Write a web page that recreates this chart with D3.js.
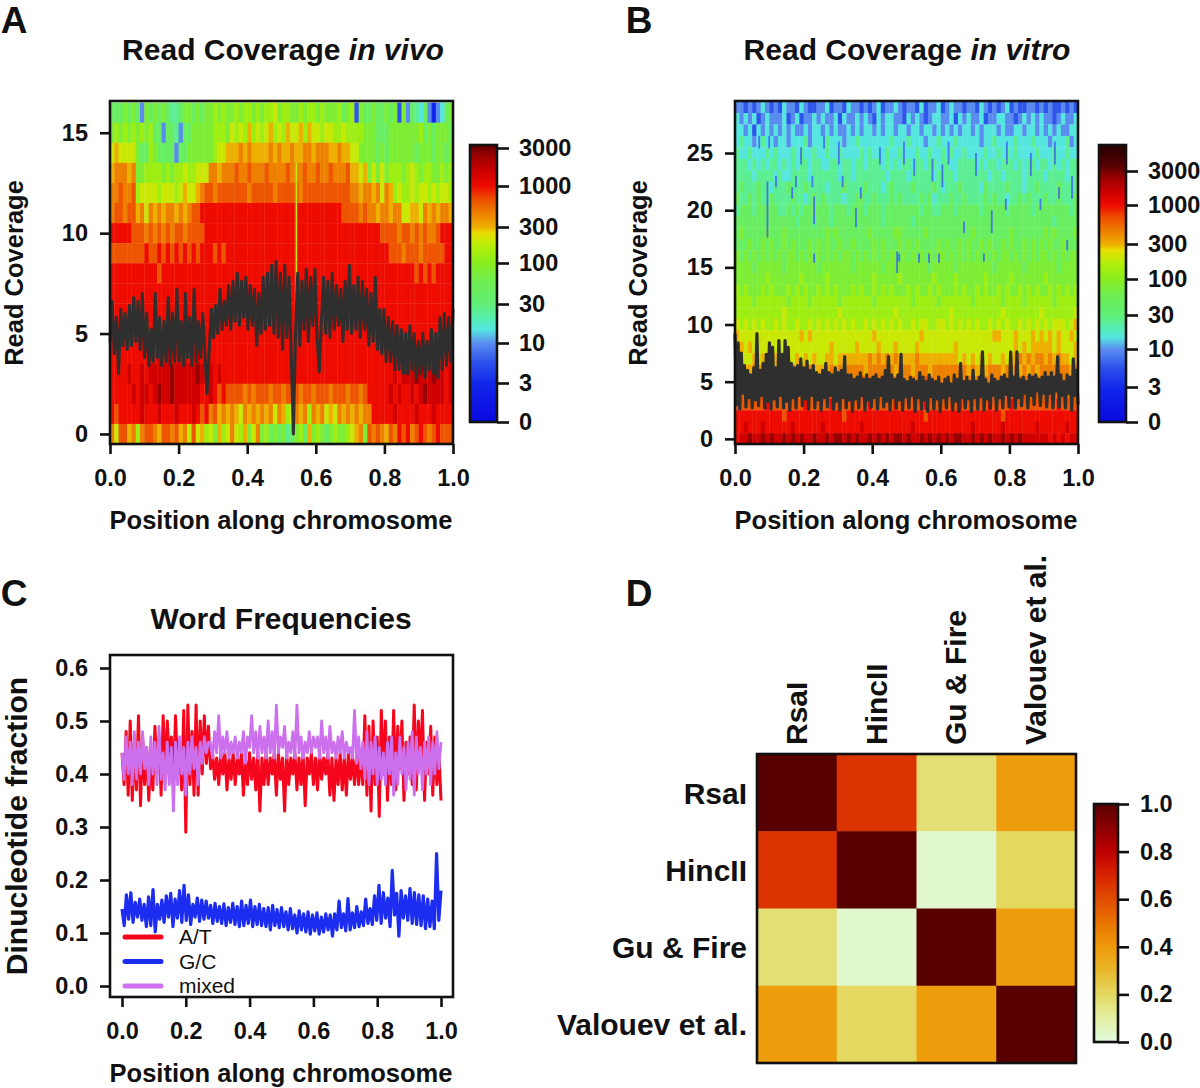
<!DOCTYPE html>
<html><head><meta charset="utf-8">
<script src="https://cdn.jsdelivr.net/npm/d3@7"></script>
<style>
html,body{margin:0;padding:0;background:#fff}
text{font-family:"Liberation Sans",Arial,sans-serif;font-weight:bold;fill:#111}
</style></head><body><div id="c"></div>
<script>
// ---- data ----
const positionTicks=[0,.2,.4,.6,.8,1];
const levelValues=[3,6,10,15,25,45,80,130,200,300,450,650,1000,1500,2500];
// each string: one row of the read-coverage map, top row first, one hex level per position bin
const heatA=[
"5556565265 6565445665 6566767667 6776767786 7766767767 6667567165 5655656162 5435202356",
"6767676767 5525542556 6666777687 8797878978 7988979887 8877877776 6655566666 6675656665",
"8988886557 6555525566 6666788999 a9a9999a9a 99a99aa9aa a99a998866 6656566666 6566656656",
"9aaa9a6677 7767677877 888aa9aaab aabaaabaaa abaaabaaba abaaab9989 6868677767 8767766767",
"aabaab7888 8788878988 9abbabbbbb bbabbbbbab bbbbabbbbb bbbbbbaa9a a9a8a97877 8788787887",
"abbabb9a8a 9a9aa9a9ab bccccccccc cccccccccc cccccccccc ccccbbbbab aa9aa9aa88 998a9a9aa9",
"cccccbbbab abababbabb bbcccccccc cccccccccc cccccccccc cccccccccc cccbbbbabb ababaabccc",
"bbbbbbbbcb bcbcbcbcbc bcccbcbccc cccccccccc cccccccccc cccccccccc cccccbbbab bbabbbbbcc",
"cccccccccc cbcccccccc cccccccccc cccccccccc cccccccccc cccccccccc cccccccccc cbcbcbcccc",
"cccccccccc cccccccccc cccccccccc cccccccccc cccccccccc cccccccccc cccccccccc cccccccccc",
"cccccccccc cccccccccc cccccccccc cccccccccc cccccccccc cccccccccc cccccccccc cccccccccc",
"cccccccccc cccccccccc cccccccccc cccccccccc cccccccccc cccccccccc cccccccccc cccccccccc",
"cccccccccc cdcdcccdcc dccccccccc cccccccccc cccccccccc cccccccccc cccccccdcc cdcdcdcccc",
"ccccdccdcd ddddeddddd edddcdcccc cccccccccc cccccccccc cccccccccc ccccccdcdd dedddeddcd",
"cccccdcddc deddeddddd dccdcbcbbb bababbbabb abbbabbabb babbbabbab cccccdcdcc dcdeddddcd",
"cbcccccdcc cdcccdcccd cbcab9a9a9 8a9a9a9a8a 978a9a7a9a 898a9a9a9a acccccdccc cdcccdcccc",
"a8bb9a7abb a9bbab9a8b 89786978a8 7968a67565 6456759676 56766789a6 baba9bacbc abcbabcbbb"
];
const heatB=[
"2212123212 1322132112 2312213221 2123122321 2213122312 3221221321 2123121122 1212112121",
"3232312322 2312312232 3223132232 3213233221 3232123322 3132322312 2332212323 2322123223",
"3323132323 2323223233 2323223232 3323233233 2332332323 2323323233 3232233233 2323232233",
"3433234332 3323334233 3433323343 3333334333 4333233433 3433333233 4333343334 3332333423",
"4334333434 3334343343 3433433334 3433343343 3343343343 4334333343 3434343333 4333433433",
"4443434344 3434344344 3344344344 3444343434 4344344344 3344443434 4344434344 3443434344",
"4444344443 4334444344 4444344344 4444434444 3444443444 4344444443 4434444344 4434444344",
"4544454434 4454445444 4344454444 5444345444 4544445434 4454444354 4445444344 5444454444",
"5445454454 4445443454 5444434455 4454445454 4445453444 5445444454 5443445454 4454454445",
"4555455555 4454545555 5545554555 4555455555 5554554455 5455555455 5554555554 5555555545",
"5555555555 5555455545 5545555555 5555455555 5455555555 5555555555 5555555555 5555455555",
"5655555655 5655555555 5656555555 5655555665 5555655555 5555565555 5555655555 5565655556",
"5556556565 5656555656 5655655655 5565655565 6565555656 5565655656 5565655656 5656556555",
"6565656565 6566565656 5656566565 6565656656 5656565665 6565656565 6566565656 5665656566",
"6666566666 6566666665 6666666566 6666566666 6666656666 6566666666 5666666566 6666656666",
"6666666766 6666676666 6766666666 6676666676 6666667666 6766666676 6666766666 6676666666",
"7676667676 6676767667 6767666767 6676767666 7676676766 6767667676 6767667676 7667676767",
"7777677777 7767777677 7777677777 7767777777 7677777677 7777767777 7767777677 7777677777",
"7777777777 7877777777 7777877777 7777777877 7777777777 8777777777 7787777777 7877777778",
"8787878778 7877877878 7878787877 8787878787 7878877887 8787878778 7878778787 8787888789",
"9888888888 8888898988 8888888888 8898888888 8889888888 8888888888 9988898889 8989898898",
"8989888888 8888888888 8898888898 8889888988 8898888888 8988888888 8888898989 9999898889",
"8888989999 9988989898 8998999999 9a9a9a9a99 99a9999999 9989898989 889899a9a9 aa9a9a9989",
"9999a9a999 999a9a9a99 99a9a9aaaa 9aaaaaa9aa a9aaa9aaaa aaaa9a9a9a aa9a9a9a9a 9aaaaaaa9a",
"aaaaaaaaaa aaabaaaaaa aaaaaaaaab aaaaaaaaaa aaaabaaaaa aaaaaaaaaa aaaaaaabaa aaaaaaaaaa",
"bbabbabbba bbabbabbab babbabbabb bbabbbabbb bbabbabbab babbbabbab bbabbabbab bbabbababb",
"bbbbbbbcbb bbbbbbcbbb bbcbbbbbbb bcbbbbbcbb bbbbcbbbbb bbcbbbbbbc bbbbcbbbbb bbbbbcbbbb",
"cccccccccc cbcccccccc cccccbcccc cccccccccc ccccbccccc cccccccccc ccbccccccc cccccccccc",
"ccdcccdccc cccdcccccc dccccccccd cccccccccc cdcccccccc cccccdcccc ccdccccccc dccccccdcc",
"cddeddeded dedededded dedeededed dedededeed eddededede deeddedede ddedededdd dddcdcdcdd"
];
const streakA=[13,12,11,10,9,8,7,6]; // rows of the thin pale streak near 0.54
// thin blue streaks in panel B: position, coverage low, coverage high
const streakBPos=[.092,.068,.228,.228,.257,.164,.097,.117,.175,.223,.311,.364,.35,.476,.573,.602,.665,.723,.746,.534,.563,.592,.47,.966,.888,.787,.98,.942,.19,.30,.42,.49,.52,.62,.70,.79,.86,.93];
const streakBLow=[17.6,25.4,18.8,15.4,25.4,21,25.4,22,22,22,22,21,18.5,15.5,22.5,22,18,15.5,18,15.4,15.4,15.4,14.5,16.5,20,20,21,21,24,24,24,24,23,24,23,24,23,24];
const streakBHigh=[22.5,26.5,21.2,16.2,26.5,22,26.5,23,23,23,23,22,20.2,16.2,24.5,24,19,16.2,20,16.2,16.2,16.2,16.4,17.4,21,21,23,22,25.5,26,25.5,26,24.5,26,25,26,25,26];
const lineA=[
46,66,40,58,30,62,44,60,42,64,44,68,46,66,42,70,
38,60,34,52,36,70,38,58,34,56,36,68,34,60,36,72,
36,56,34,70,38,58,34,72,36,56,38,60,40,20,42,62,
48,64,50,72,52,66,54,74,52,76,56,80,54,76,58,78,
52,74,54,72,44,70,50,78,52,80,54,84,50,86,48,80,
42,84,48,78,40,0,50,80,44,76,52,82,46,78,54,82,
48,31,56,78,50,76,48,80,52,74,54,72,46,76,52,84,
50,74,52,78,48,76,52,72,44,70,46,78,42,62,40,62,
36,58,36,56,32,54,32,52,30,50,30,54,32,50,28,46,
30,50,28,46,32,52,30,50,28,58,32,60,34,58,36,62
];
const lineB=[
92,30,84,26,75,40,64,28,60,36,56,27,62,34,92,29,60,38,66,27,74,33,
84,26,80,35,62,28,86,38,74,27,86,33,80,25,66,36,62,27,64,38,70,29,
62,35,68,26,60,38,64,27,58,34,56,25,60,36,66,28,58,38,56,26,62,33,
58,25,60,36,72,27,56,34,56,24,52,35,54,27,58,38,52,25,56,34,52,28,
54,36,56,26,52,38,54,28,60,33,72,25,56,36,52,27,56,34,74,25,52,37,
50,27,54,38,52,24,50,36,58,26,54,34,50,24,56,37,52,26,50,35,54,24,
48,36,52,27,54,38,48,25,56,33,52,24,66,36,50,27,54,35,50,24,60,36,
50,26,54,37,76,25,52,35,48,27,56,38,52,25,50,36,54,27,56,39,52,28,
76,38,54,27,76,36,52,29,54,40,50,27,56,38,54,30,56,42,52,29,54,40,
58,28,54,40,58,27,54,42,72,28,56,38,50,27,56,40,54,25,70,38,60,30
];
const seriesAT=[
44,38,48,36,50,35,46,37,51,34,47,38,45,35,43,37,49,40,47,36,51,39,50,42,47,38,51,41,44,37,52,29,53,38,48,36,53,36,50,40,51,42,49,
41,44,39,43,38,44,40,44,37,43,39,44,38,43,40,44,36,43,38,44,39,43,37,44,33,43,38,44,38,43,40,44,36,44,39,43,33,44,38,43,
40,44,37,43,38,44,34,43,40,44,38,43,37,44,39,43,40,44,36,43,35,43,38,44,37,43,36,44,39,43,38,44,38,
44,38,51,36,49,33,50,38,47,32,52,40,50,35,47,38,52,37,49,41,50,35,46,40,47,38,53,37,50,42,52,35,46,40,49,36,47,38,44,35
];
const seriesGC=[
145,114,172,126,176,120,158,130,164,124,154,112,168,114,182,102,154,126,162,120,170,130,175,112,164,128,180,120,190,124,172,116,154,130,166,122,162,126,160,128,
152,118,156,122,150,118,155,114,148,120,156,116,150,112,160,114,152,118,162,112,150,116,154,114,146,112,148,106,152,114,144,110,148,112,140,106,146,108,134,100,
142,106,136,102,140,98,134,104,138,98,130,102,136,106,134,94,136,106,160,110,136,104,165,106,138,110,150,112,140,114,164,118,146,116,170,124,190,118,
176,128,166,112,218,134,175,94,180,128,170,124,184,118,176,116,172,114,170,108,164,112,160,108,250,124,180
];
const seriesMix=[
44,39,47,40,46,38,48,39,46,40,48,41,45,38,47,40,46,38,49,39,44,37,46,38,45,33,46,38,47,40,45,36,46,40,47,41,45,38,46,42,47,44,46,
46,43,48,44,51,43,47,44,48,43,46,44,47,43,46,44,48,42,47,45,51,44,48,43,49,44,47,43,50,44,48,43,53,44,47,45,49,43,46,44,
48,43,53,44,47,43,46,44,48,44,47,45,47,43,50,44,47,43,49,44,46,43,47,44,48,43,46,44,45,43,52,42,47,
41,46,39,48,38,46,40,47,38,45,39,44,38,46,40,47,36,44,38,47,40,45,37,46,39,48,36,47,40,45,37,46,40,47,38,46,40,48,41,46
];
const legendLabels=["A/T","G/C","mixed"];
const matrixNames=["RsaI","HincII","Gu & Fire","Valouev et al."];
const matrixRow1=[1,.66,.17,.39];
const matrixRow2=[.66,1,.03,.2];
const matrixRow3=[.17,.03,1,.39];
const matrixRow4=[.39,.2,.39,1];
const barTicks=[0,3,10,30,100,300,1000,3000];
const corrTicks=[0,.2,.4,.6,.8,1];

// ---- scales ----
const W=1200,H=1088,ink="#111";
const svg=d3.select("#c").append("svg").attr("width",W).attr("height",H).style("display","block");
const ln=v=>Math.log10(1+v);
const stopV=[0,3,6,10,15,20,30,60,100,170,250,300,450,700,1000,1500,2500,3500,6000];
const stopC=["#0808e0","#1226ea","#2e55ec","#5a8cf0","#55e6e0","#55eeb4","#60ee78","#70ee50","#88ee20","#b4ee08","#e8e000","#eeb000","#ee8000","#ee4c00","#ee0c00","#d00000","#980000","#5a0000","#300000"];
const heatColor=d3.scaleLinear().domain(stopV.map(ln)).range(stopC).clamp(true);
const corrColor=d3.scaleLinear().domain([0,.1,.2,.3,.4,.5,.6,.7,.8,.9,1])
 .range(["#e0fbe0","#e4f0a4","#e4d860","#eab82c","#ee9a08","#e87400","#e04c00","#d82400","#bc0000","#8c0000","#580000"]);

function styleAxis(g,size){
  g.select(".domain").remove();
  g.selectAll(".tick line").attr("stroke",ink).attr("stroke-width",2.6);
  g.selectAll(".tick text").attr("font-size",size||23.5).style("font-family",'"Liberation Sans"').attr("font-weight","bold").attr("fill",ink);
}
function frame(x,y,w,h){svg.append("rect").attr("x",x).attr("y",y).attr("width",w).attr("height",h).attr("fill","none").attr("stroke",ink).attr("stroke-width",2.6);}
function label(t,x,y,size,opt={}){
  const e=svg.append("text").attr("x",x).attr("y",y).attr("font-size",size).attr("text-anchor",opt.anchor||"middle");
  if(opt.rot!=null)e.attr("transform",`rotate(${opt.rot} ${x} ${y})`);
  if(opt.weight)e.style("font-weight",opt.weight);
  e.text(t);return e;
}
function panelTitle(a,b,x,y){
  const t=svg.append("text").attr("x",x).attr("y",y).attr("font-size",30).attr("text-anchor","middle");
  t.append("tspan").text(a);
  if(b)t.append("tspan").style("font-style","italic").text(" "+b);
}
function heatPanel(rows,x0,yDomTop,yDomBot,top){
  const size=343,bottom=top+size;
  const x=d3.scaleLinear().domain([0,1]).range([x0,x0+size]);
  const y=d3.scaleLinear().domain([yDomBot,yDomTop]).range([bottom,top]);
  const parsed=rows.map(r=>r.replace(/ /g,"").split("").map(c=>levelValues[parseInt(c,16)]));
  const n=parsed.length;
  const layer=svg.append("g").style("filter","blur(0.7px)");
  parsed.forEach((row,i)=>{
    const r=n-1-i;
    layer.append("g").selectAll("rect").data(row).join("rect")
      .attr("x",(d,j)=>x(j/row.length)).attr("width",size/row.length+.4)
      .attr("y",y(r+.5)).attr("height",y(r-.5)-y(r+.5)+.3)
      .attr("fill",d=>heatColor(ln(d)));
  });
  return {x,y,bottom,top,size,layer};
}
function drawLine(p,vals,scale,w){
  const l=d3.line().x((d,i)=>p.x(i/(vals.length-1))).y(d=>p.y(d/scale));
  svg.append("path").attr("d",l(vals)).attr("fill","none").attr("stroke","#2f2f2f").attr("stroke-width",w).attr("stroke-linejoin","round");
}
function axes(p,yTicks,x0){
  svg.append("g").attr("transform",`translate(0,${p.bottom})`).call(d3.axisBottom(p.x).tickValues(positionTicks).tickFormat(d3.format(".1f")).tickSize(10).tickPadding(15)).call(g=>styleAxis(g));
  svg.append("g").attr("transform",`translate(${x0},0)`).call(d3.axisLeft(p.y).tickValues(yTicks).tickFormat(d3.format("d")).tickSize(10).tickPadding(12)).call(g=>styleAxis(g));
  frame(x0,p.top,p.size,p.size);
}
function colorBar(x,pxTicks,topPx){
  const pos=d3.scaleLinear().domain(barTicks.map(ln)).range(pxTicks);
  const bot=pxTicks[0];
  const hs=d3.range(topPx,bot);
  svg.append("g").selectAll("rect").data(hs).join("rect").attr("x",x).attr("width",27).attr("y",d=>d).attr("height",1.2)
    .attr("fill",d=>heatColor(pos.invert(d)));
  const ax=d3.axisRight(d3.scaleLinear().domain(barTicks.map(ln)).range(pxTicks)).tickValues(barTicks.map(ln)).tickFormat((d,i)=>barTicks[i]).tickSize(12).tickPadding(10);
  svg.append("g").attr("transform",`translate(${x+27},0)`).call(ax).call(g=>styleAxis(g));
  frame(x,topPx,27,bot-topPx);
}

// ---- panel A ----
const pA=heatPanel(heatA,110,16.58,-.5,101);
const xStreak=.541;
svg.append("g").selectAll("rect").data(streakA).join("rect")
  .attr("x",pA.x(xStreak)).attr("width",1.6).attr("y",d=>pA.y(d+.5)).attr("height",d=>pA.y(d-.5)-pA.y(d+.5)).attr("fill",heatColor(ln(190)));
drawLine(pA,lineA,10,3);
axes(pA,[0,5,10,15],110);
colorBar(470,[422,383,343,304,263,227,186,148],145);
panelTitle("Read Coverage","in vivo",283,60);
label("Position along chromosome",281,529,25.5);
label("Read Coverage",23,273,25.5,{rot:-90});
label("A",14,33,37);

// ---- panel B ----
const pB=heatPanel(heatB,735,29.55,-.45,101);
svg.append("g").selectAll("rect").data(streakBPos).join("rect")
  .attr("x",d=>pB.x(d)).attr("width",1.8)
  .attr("y",(d,i)=>pB.y(streakBHigh[i])).attr("height",(d,i)=>pB.y(streakBLow[i])-pB.y(streakBHigh[i]))
  .attr("fill",heatColor(ln(7))).attr("opacity",.85);
drawLine(pB,lineB,10,3.2);
axes(pB,[0,5,10,15,20,25],735);
colorBar(1099,[422,387,349,315,279,244,205,171],145);
panelTitle("Read Coverage","in vitro",907,60);
label("Position along chromosome",906,529,25.5);
label("Read Coverage",647,273,25.5,{rot:-90});
label("B",639,33,37);

// ---- panel C ----
{
  const x=d3.scaleLinear().domain([0,1]).range([122,441]);
  const y=d3.scaleLinear().domain([0,.6]).range([986,668]);
  const cols=["#f5061c","#1c2cf0","#cc70ee"];
  const widths=[3,3.2,2.8];
  const series=[[seriesAT,100],[seriesGC,1000],[seriesMix,100]];
  series.forEach(([v,s],k)=>{
    const l=d3.line().x((d,i)=>x(i/(v.length-1))).y(d=>y(d/s));
    svg.append("path").attr("d",l(v)).attr("fill","none").attr("stroke",cols[k]).attr("stroke-width",widths[k]).attr("stroke-linejoin","round");
  });
  svg.append("g").attr("transform","translate(0,997)").call(d3.axisBottom(x).tickValues(positionTicks).tickFormat(d3.format(".1f")).tickSize(10).tickPadding(15)).call(g=>styleAxis(g));
  svg.append("g").attr("transform","translate(110,0)").call(d3.axisLeft(y).tickValues(d3.range(0,.61,.1)).tickFormat(d3.format(".1f")).tickSize(10).tickPadding(12)).call(g=>styleAxis(g));
  frame(110,655,343,342);
  const ly=d3.scalePoint().domain(legendLabels).range([937,986]);
  legendLabels.forEach((t,k)=>{
    svg.append("line").attr("x1",125).attr("x2",161).attr("y1",ly(t)).attr("y2",ly(t)).attr("stroke",cols[k]).attr("stroke-width",5).attr("stroke-linecap","round");
    label(t,179,ly(t)+7,21,{anchor:"start",weight:"normal"});
  });
  panelTitle("Word Frequencies",null,281,629);
  label("Position along chromosome",281,1082,25.5);
  label("Dinucleotide fraction",27,826,30,{rot:-90});
  label("C",14,606,37);
}

// ---- panel D ----
{
  const rows=[matrixRow1,matrixRow2,matrixRow3,matrixRow4];
  const x=d3.scaleBand().domain(d3.range(4)).range([757,1076]);
  const y=d3.scaleBand().domain(d3.range(4)).range([754,1063]);
  rows.forEach((r,i)=>{
    svg.append("g").selectAll("rect").data(r).join("rect")
      .attr("x",(d,j)=>x(j)).attr("y",y(i)).attr("width",x.bandwidth()+.5).attr("height",y.bandwidth()+.5).attr("fill",d=>corrColor(d));
  });
  frame(757,754,319,309);
  matrixNames.forEach((t,i)=>{
    label(t,747,y(i)+y.bandwidth()/2+11,30,{anchor:"end"});
    label(t,x(i)+x.bandwidth()/2+10,745,30,{anchor:"start",rot:-90});
  });
  const bar=d3.scaleLinear().domain([0,1]).range([1042,804]);
  svg.append("g").selectAll("rect").data(d3.range(804,1042)).join("rect").attr("x",1094).attr("width",24).attr("y",d=>d).attr("height",1.2).attr("fill",d=>corrColor(bar.invert(d+.5)));
  svg.append("g").attr("transform","translate(1118,0)").call(d3.axisRight(bar).tickValues(corrTicks).tickFormat(d3.format(".1f")).tickSize(11).tickPadding(11)).call(g=>styleAxis(g));
  frame(1094,804,24,238);
  label("D",639,606,37);
}
</script></body></html>
